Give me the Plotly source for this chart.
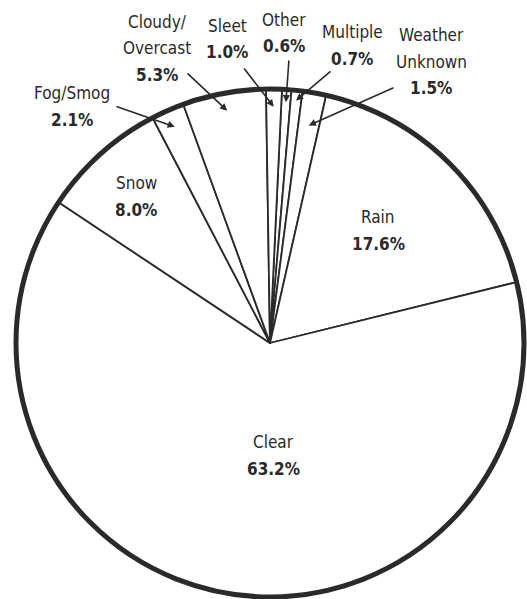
import math

import plotly.graph_objects as go

# Datos (sentido horario desde arriba, empezando por "Other")
categorias = ["Other", "Multiple", "Weather Unknown", "Rain", "Clear",
              "Snow", "Fog/Smog", "Cloudy/Overcast", "Sleet"]
porcentajes = [0.6, 0.7, 1.5, 17.6, 63.2, 8.0, 2.1, 5.3, 1.0]
lineas_nombre = [["Other"], ["Multiple"], ["Weather", "Unknown"], ["Rain"], ["Clear"],
                 ["Snow"], ["Fog/Smog"], ["Cloudy/", "Overcast"], ["Sleet"]]
etiquetas_pct = [f"{p:.1f}%" for p in porcentajes]

# ---------------------------------------------------------------------
# Geometría (píxeles)
# ---------------------------------------------------------------------
W, H = 527, 599
PIE_X0, PIE_Y0, LADO = 16, 89, 508   # cuadrado que ocupa el pie
M_L, M_T = PIE_X0, PIE_Y0
M_R, M_B = W - M_L - LADO, H - M_T - LADO
CX, CY = PIE_X0 + LADO / 2, PIE_Y0 + LADO / 2
R = LADO / 2
ROTACION = 2.7                  # inicio de "Other", grados desde las 12

_TXT = "#2a2a2a"
_FONT = "DejaVu Sans Condensed, Liberation Sans Narrow, Liberation Sans, sans-serif"

# posición (px) del centro de la primera línea de cada etiqueta
pos_etiqueta = {
    "Other": (284, 20), "Multiple": (352, 32), "Weather Unknown": (431, 35),
    "Rain": (378, 217), "Clear": (273, 442), "Snow": (136, 183),
    "Fog/Smog": (72, 93), "Cloudy/Overcast": (157, 22), "Sleet": (227, 26),
}
INTERLINEA = 26.5

# líneas guía: origen (px) junto al texto y fracción de radio donde apunta
guias = {
    "Fog/Smog": ((115, 106), 0.93),
    "Cloudy/Overcast": ((186, 72), 0.93),
    "Sleet": ((243, 67), 0.93),
    "Other": ((289, 59), 0.95),
    "Multiple": ((332, 70), 0.96),
    "Weather Unknown": ((395, 87), 0.87),
}


def _px_a_paper(x, y):
    return (x - PIE_X0) / LADO, (PIE_Y0 + LADO - y) / LADO


fig = go.Figure(
    go.Pie(
        labels=categorias,
        values=porcentajes,
        sort=False,
        direction="clockwise",
        rotation=ROTACION,
        textinfo="none",
        hoverinfo="label+percent",
        marker=dict(colors=["white"] * len(categorias),
                    line=dict(color=_TXT, width=1.8)),
        showlegend=False,
        domain=dict(x=[0, 1], y=[0, 1]),
    )
)

# borde exterior grueso
fig.add_shape(type="circle", xref="paper", yref="paper", x0=0, y0=0, x1=1, y1=1,
              line=dict(color=_TXT, width=5))

anotaciones = []
total = sum(porcentajes)
acum = 0.0
for cat, pct, nombre, txt_pct in zip(categorias, porcentajes, lineas_nombre, etiquetas_pct):
    medio = math.radians(ROTACION + (acum + pct / 2) / total * 360)
    acum += pct

    x0, y0 = pos_etiqueta[cat]
    lineas = [(l, False) for l in nombre] + [(txt_pct, True)]
    for i, (linea, negrita) in enumerate(lineas):
        xp, yp = _px_a_paper(x0, y0 + i * INTERLINEA)
        anotaciones.append(dict(
            x=xp, y=yp, xref="paper", yref="paper", showarrow=False,
            text=f"<b>{linea}</b>" if negrita else linea,
            font=dict(family=_FONT, size=17, color=_TXT),
            xanchor="center", yanchor="middle",
        ))

    if cat in guias:
        (tx, ty), frac = guias[cat]
        px = CX + frac * R * math.sin(medio)
        py = CY - frac * R * math.cos(medio)
        xp, yp = _px_a_paper(px, py)
        anotaciones.append(dict(
            x=xp, y=yp, xref="paper", yref="paper", text="",
            showarrow=True, ax=tx - px, ay=ty - py,
            arrowhead=2, arrowsize=0.9, arrowwidth=1.6, arrowcolor=_TXT,
        ))

fig.update_layout(
    width=W, height=H,
    margin=dict(l=M_L, r=M_R, t=M_T, b=M_B),
    paper_bgcolor="white",
    plot_bgcolor="white",
    annotations=anotaciones,
)

# sin el margen por defecto del <body>, la figura encaja justo en la ventana
fig.write_html("out.html", config=dict(displayModeBar=False),
               post_script="document.body.style.margin='0';")
